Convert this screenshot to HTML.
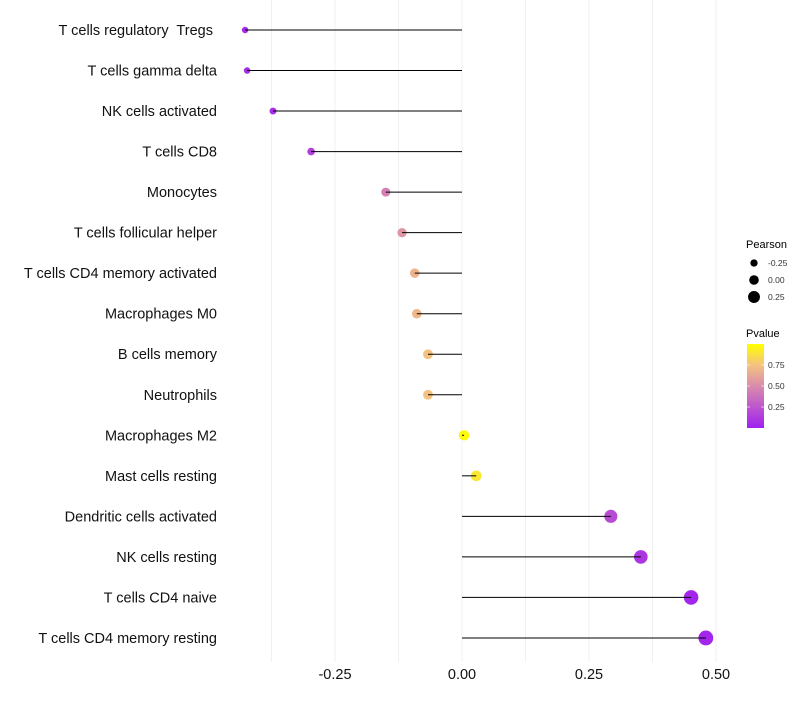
<!DOCTYPE html>
<html><head><meta charset="utf-8"><style>
body{margin:0;background:#fff;font-family:"Liberation Sans",sans-serif}
text{white-space:pre}
</style></head><body>
<svg id="c" width="800" height="700" xmlns="http://www.w3.org/2000/svg"></svg>
<script>
const categories=["T cells regulatory  Tregs ","T cells gamma delta","NK cells activated","T cells CD8","Monocytes","T cells follicular helper","T cells CD4 memory activated","Macrophages M0","B cells memory","Neutrophils","Macrophages M2","Mast cells resting","Dendritic cells activated","NK cells resting","T cells CD4 naive","T cells CD4 memory resting"];
const pearson=[-0.427,-0.423,-0.372,-0.297,-0.150,-0.118,-0.093,-0.089,-0.067,-0.067,0.004,0.028,0.293,0.352,0.451,0.480];
const pvalues=[0.05,0.05,0.06,0.15,0.45,0.55,0.68,0.7,0.75,0.75,0.98,0.9,0.2,0.1,0.03,0.03];
const xTicks=[-0.25,0,0.25,0.5];
const xTickLabels=["-0.25","0.00","0.25","0.50"];
const NS="http://www.w3.org/2000/svg";
const svg=document.getElementById('c');
const x=v=>462+v*508;
const y=i=>30+i*40.53;
const r=v=>5.2+v*4.6;
function col(p){
  const stops=[[0,[160,32,240]],[0.5,[217,140,171]],[0.75,[244,194,128]],[1,[255,255,0]]];
  for(let k=1;k<stops.length;k++){if(p<=stops[k][0]){const a=stops[k-1],b=stops[k],t=(p-a[0])/(b[0]-a[0]);return 'rgb('+a[1].map((c,j)=>Math.round(c+(b[1][j]-c)*t)).join(',')+')';}}
  return 'rgb(255,255,0)';
}
function el(t,a,n){const e=document.createElementNS(NS,t);for(const k in a)e.setAttribute(k,a[k]);if(n)e.textContent=n;svg.appendChild(e);return e;}
for(let g=-0.375;g<=0.5;g+=0.125){const e=el('line',{x1:x(g),x2:x(g),y1:0,y2:662,stroke:'#f0f0f0','stroke-width':1});

}
categories.forEach((c,i)=>{
  const t=el('text',{x:217,y:y(i)+5,'text-anchor':'end','font-size':14.5,fill:'#111'},c);
  
  
  const p=el('circle',{cx:x(pearson[i]),cy:y(i),r:r(pearson[i]),fill:col(pvalues[i])});
  
  
  const l=el('line',{x1:x(0),x2:x(pearson[i]),y1:y(i),y2:y(i),stroke:'#000','stroke-width':1});
  
  
});
xTicks.forEach((v,i)=>{const t=el('text',{x:x(v),y:679,'text-anchor':'middle','font-size':14.5,fill:'#111'},xTickLabels[i]);

});
const lt=el('text',{x:746,y:248,'font-size':11,fill:'#000'},'Pearson');


[-0.25,0,0.25].forEach((v,i)=>{
  const c=el('circle',{cx:754,cy:263+i*17,r:r(v)-0.4,fill:'#000'});
  
  
  const t=el('text',{x:768,y:266+i*17,'font-size':8.5,fill:'#333'},['-0.25','0.00','0.25'][i]);
  
  
});
const pt=el('text',{x:746,y:337,'font-size':11,fill:'#000'},'Pvalue');


const defs=el('defs',{});
defs.innerHTML='<linearGradient id="gr" x1="0" y1="1" x2="0" y2="0"><stop offset="0" stop-color="rgb(160,32,240)"/><stop offset="0.5" stop-color="rgb(217,140,171)"/><stop offset="0.75" stop-color="rgb(244,194,128)"/><stop offset="1" stop-color="rgb(255,255,0)"/></linearGradient>';
const cb=el('rect',{x:747,y:344,width:17,height:84,fill:'url(#gr)'});


[0.75,0.5,0.25].forEach(v=>{
  const yy=428-v*84;
  el('line',{x1:747,x2:750,y1:yy,y2:yy,stroke:'#fff','stroke-width':0.6});
  el('line',{x1:761,x2:764,y1:yy,y2:yy,stroke:'#fff','stroke-width':0.6});
  const t=el('text',{x:768,y:yy+3,'font-size':8.5,fill:'#333'},v.toFixed(2));
  
  
});
</script>
</body></html>
